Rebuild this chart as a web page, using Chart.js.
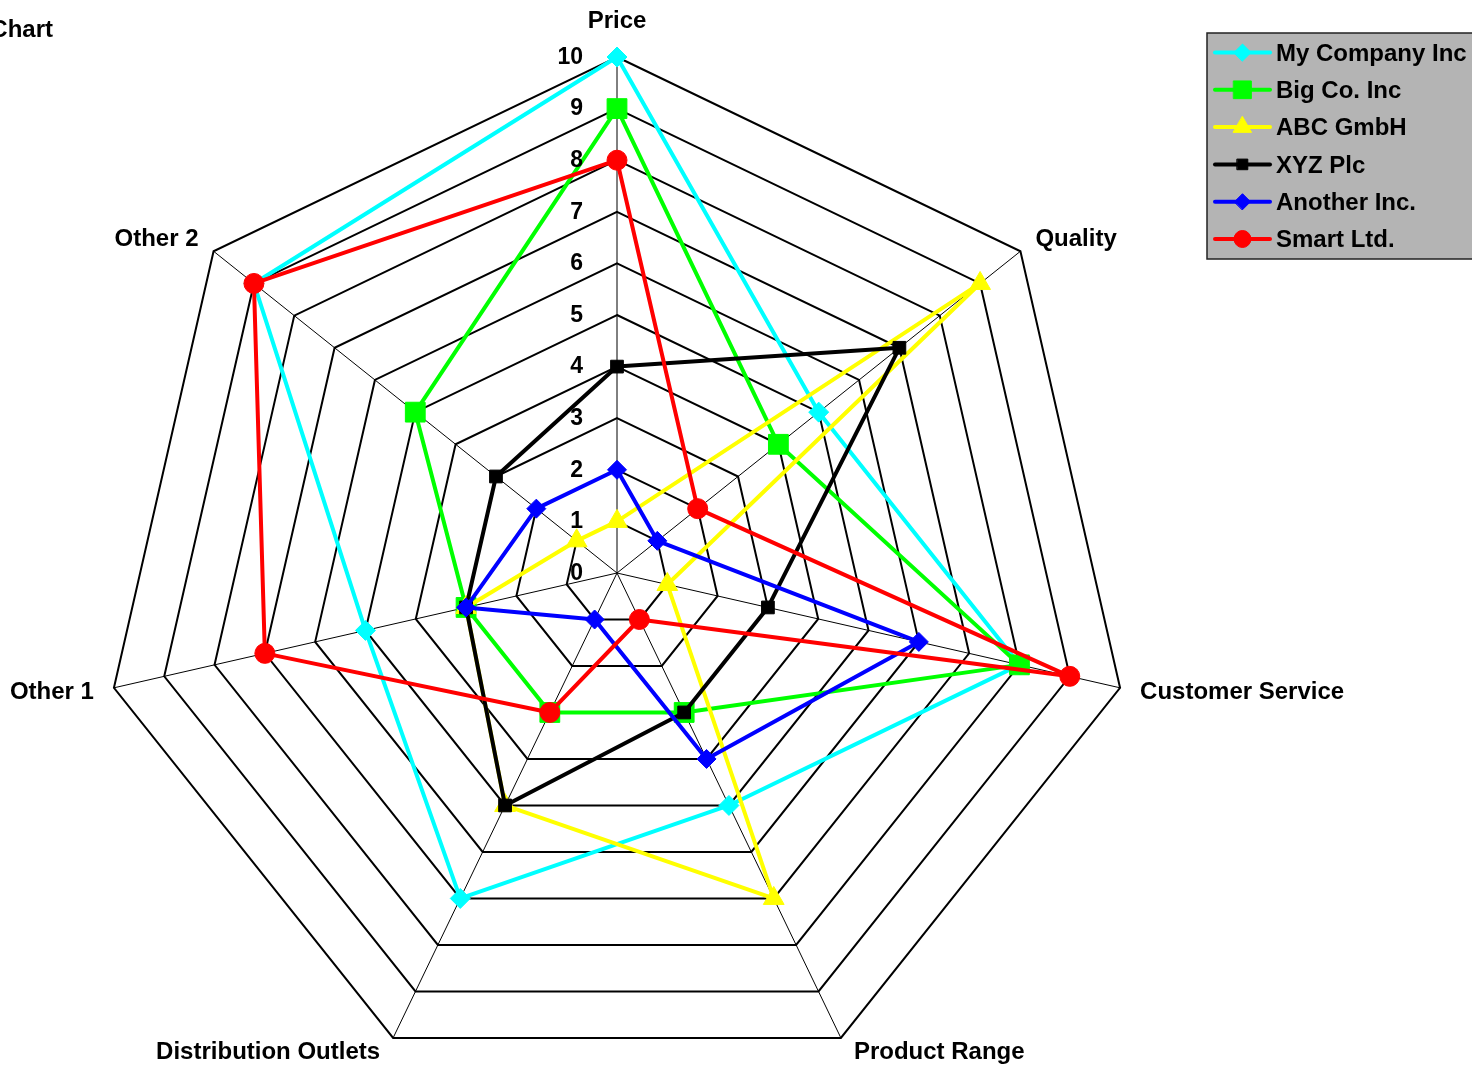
<!DOCTYPE html>
<html>
<head>
<meta charset="utf-8">
<title>Radar Chart</title>
<script src="https://cdn.jsdelivr.net/npm/chart.js@4.4.1/dist/chart.umd.min.js"></script>
<style>
  html, body { margin: 0; padding: 0; background: #fff; overflow: hidden; }
  #wrap { position: relative; width: 1472px; height: 1067px; }
</style>
</head>
<body>
<div id="wrap"><canvas id="radar"></canvas></div>
<script>
// =============================================
//  DADOS
// =============================================
const categorias = ['Price', 'Quality', 'Customer Service', 'Product Range',
                    'Distribution Outlets', 'Other 1', 'Other 2'];

const nomesSeries = ['My Company Inc', 'Big Co. Inc', 'ABC GmbH', 'XYZ Plc', 'Another Inc.', 'Smart Ltd.'];

const myCompany = [10, 5, 8, 5, 7, 5, 9];
const bigCo     = [9, 4, 8, 3, 3, 3, 5];
const abcGmbh   = [1, 9, 1, 7, 5, 3, 1];
const xyzPlc    = [4, 7, 3, 3, 5, 3, 3];
const another   = [2, 1, 6, 4, 1, 3, 2];
const smartLtd  = [8, 2, 9, 1, 3, 7, 9];

const ticksRadiais = [0, 1, 2, 3, 4, 5, 6, 7, 8, 9, 10];

const tituloVisivel = 'Chart';

// =============================================
//  ESTILOS
// =============================================
const fonte = '"Liberation Sans", Arial, Helvetica, sans-serif';

const estilos = [
  { cor: '#00ffff', ponto: 'rectRot',  raio: 10 },
  { cor: '#00ff00', ponto: 'rect',     raio: 14 },
  { cor: '#ffff00', ponto: 'triangle', raio: 12 },
  { cor: '#000000', ponto: 'rect',     raio: 9 },
  { cor: '#0000ff', ponto: 'rectRot',  raio: 9.5 },
  { cor: '#ff0000', ponto: 'circle',   raio: 10 }
];

const valores = [myCompany, bigCo, abcGmbh, xyzPlc, another, smartLtd];

// =============================================
//  PLUGIN: rótulos, escala, título e legenda
// =============================================
const extras = {
  id: 'extras',
  afterDatasetsDraw(chart) {
    const { ctx } = chart;
    const r = chart.scales.r;
    ctx.save();
    ctx.fillStyle = '#000';

    // números da escala, à esquerda do eixo Price
    ctx.font = 'bold 23px ' + fonte;
    ctx.textAlign = 'right';
    ctx.textBaseline = 'middle';
    r.ticks.forEach(t => {
      const d = r.getDistanceFromCenterForValue(t.value);
      ctx.fillText(t.label, r.xCenter - 34, r.yCenter - d + 0.5);
    });

    // nomes dos eixos
    ctx.font = 'bold 24px ' + fonte;
    categorias.forEach((nome, i) => {
      const a = r.getIndexAngle(i);
      const s = Math.sin(a), c = Math.cos(a);
      const v = r.getPointPosition(i, r.drawingArea);
      let x = v.x, y = v.y, dx = 0;
      if (Math.abs(s) < 0.01) {
        ctx.textAlign = 'center';
        y = v.y - 36;
      } else {
        ctx.textAlign = s > 0 ? 'left' : 'right';
        if (c > 0.3)       { dx = 15; y = v.y - 12; }
        else if (c < -0.3) { dx = 13; y = v.y + 14; }
        else               { dx = 20; y = v.y + 5; }
        x = v.x + (s > 0 ? dx : -dx);
      }
      ctx.fillText(nome, x, y);
    });

    // título (cortado na borda esquerda)
    ctx.textAlign = 'right';
    ctx.textBaseline = 'alphabetic';
    ctx.fillText(tituloVisivel, 53, 37);
    ctx.restore();
  },
  afterDraw(chart) {
    const { ctx } = chart;
    const lx = 1207, ly = 33, lw = 290, lh = 226;
    ctx.save();
    ctx.fillStyle = '#b4b4b4';
    ctx.fillRect(lx, ly, lw, lh);
    ctx.strokeStyle = '#222';
    ctx.lineWidth = 1.5;
    ctx.strokeRect(lx, ly, lw, lh);

    chart.data.datasets.forEach((ds, i) => {
      const y = ly + 19.5 + i * 37.3;
      ctx.strokeStyle = ds.borderColor;
      ctx.lineWidth = 4;
      ctx.lineCap = 'round';
      ctx.beginPath();
      ctx.moveTo(lx + 8, y);
      ctx.lineTo(lx + 63, y);
      ctx.stroke();

      ctx.fillStyle = ds.pointBackgroundColor;
      ctx.lineWidth = 1;
      Chart.helpers.drawPoint(ctx, {
        pointStyle: ds.pointStyle,
        rotation: 0,
        radius: ds.pointRadius - 1.5,
        borderWidth: 1
      }, lx + 35.5, y);

      ctx.fillStyle = '#000';
      ctx.font = 'bold 24px ' + fonte;
      ctx.textAlign = 'left';
      ctx.textBaseline = 'middle';
      ctx.fillText(ds.label, lx + 69, y + 1.5);
    });
    ctx.restore();
  }
};

// =============================================
//  GRÁFICO
// =============================================
const datasets = nomesSeries.map((nome, i) => ({
  label: nome,
  data: valores[i],
  borderColor: estilos[i].cor,
  backgroundColor: estilos[i].cor,
  pointBackgroundColor: estilos[i].cor,
  pointBorderColor: estilos[i].cor,
  pointStyle: estilos[i].ponto,
  pointRadius: estilos[i].raio,
  pointBorderWidth: 1,
  borderWidth: 4,
  borderJoinStyle: 'round',
  fill: false,
  order: nomesSeries.length - i   // séries seguintes desenhadas por cima
}));

new Chart(document.getElementById('radar'), {
  type: 'radar',
  data: { labels: categorias, datasets },
  options: {
    responsive: true,
    maintainAspectRatio: false,
    animation: false,
    events: [],
    plugins: {
      legend: { display: false },
      tooltip: { enabled: false },
      title: { display: false }
    },
    scales: {
      r: {
        min: 0,
        max: 10,
        ticks: { display: false, stepSize: 1 },
        pointLabels: { display: false },
        grid: { color: '#000', lineWidth: 2, circular: false },
        angleLines: { color: '#000', lineWidth: 1 },
        afterBuildTicks: s => { s.ticks = ticksRadiais.map(v => ({ value: v })); },
        afterFit: s => {
          s.xCenter = 617;
          s.yCenter = 573;
          s.drawingArea = 516;
        }
      }
    }
  },
  plugins: [extras]
});
</script>
</body>
</html>
